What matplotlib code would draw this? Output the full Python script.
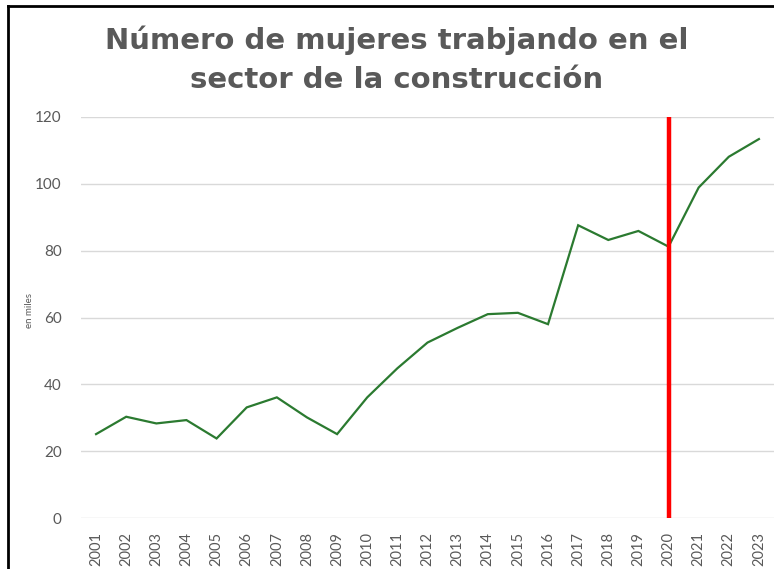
import matplotlib
matplotlib.use("Agg")
import matplotlib.pyplot as plt
from matplotlib.lines import Line2D

years = list(range(2001, 2024))
mujeres = [25.1, 30.3, 28.3, 29.3, 23.8, 33.1, 36.1, 30.1, 25.1, 36.1, 44.8,
           52.5, 56.9, 61.0, 61.4, 58.0, 87.6, 83.2, 85.9, 81.2, 98.9, 108.1, 113.4]
yticks = [0, 20, 40, 60, 80, 100, 120]
marker_year = 2020
title = "Número de mujeres trabjando en el\nsector de la construcción"
ylabel = "en miles"

plt.rcParams['font.family'] = ['Lato', 'DejaVu Sans']
gray = "#595959"

fig = plt.figure(figsize=(7.74, 5.69), dpi=100)
ax = fig.add_axes([81/774, 1-518/569, 1-81/774, (518-117)/569])

ax.plot(years, mujeres, color="#2b7a30", lw=1.6, zorder=3, solid_joinstyle='miter')
ax.plot([marker_year, marker_year], [0, 120], color="#ff0000", lw=3.2, zorder=4)

ax.set_xlim(2000.5, 2023.5)
ax.set_ylim(0, 120)
ax.set_yticks(yticks)
ax.set_xticks(years)
ax.set_xticklabels([str(y) for y in years], rotation=90, fontsize=10.5, color=gray)
ax.set_yticklabels([str(v) for v in yticks], fontsize=11, color=gray)
ax.tick_params(axis='both', length=0)
ax.tick_params(axis='y', pad=14)
ax.tick_params(axis='x', pad=10)
ax.grid(axis='y', color="#d9d9d9", lw=1)
ax.set_axisbelow(True)
for s in ax.spines.values():
    s.set_visible(False)

fig.text(30/774, 1-310/569, ylabel, rotation=90, ha='center', va='center',
         fontsize=7, color=gray)
fig.text(397/774, 1-60/569, title, ha='center', va='center', fontsize=21,
         fontweight='bold', color=gray, linespacing=1.5, family='DejaVu Sans')

# figure border (top and left)
fig.add_artist(Line2D([8/774, 1], [1-6/569, 1-6/569], transform=fig.transFigure,
                      color='black', lw=2))
fig.add_artist(Line2D([8/774, 8/774], [0, 1-6/569], transform=fig.transFigure,
                      color='black', lw=2))

fig.savefig("out.png", dpi=100)
